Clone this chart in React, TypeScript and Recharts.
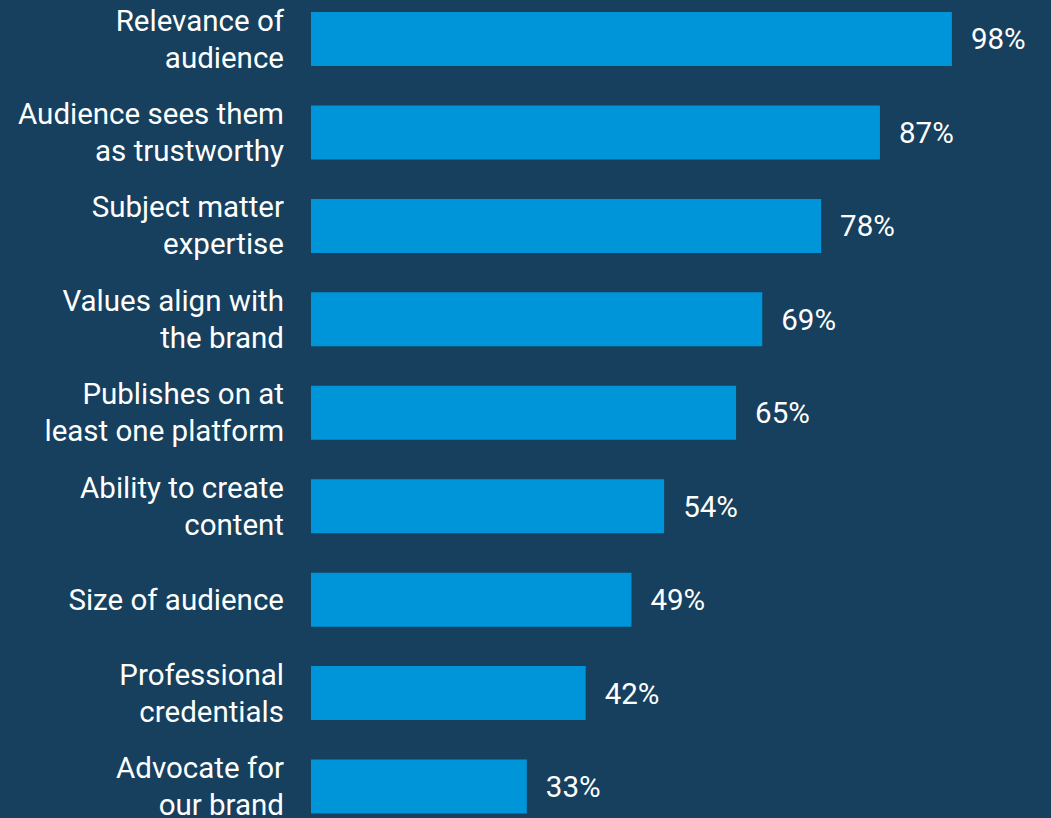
import React from "react";
import { BarChart, Bar, XAxis, YAxis, LabelList } from "recharts";

const categories = [
  ["Relevance of", "audience"],
  ["Audience sees them", "as trustworthy"],
  ["Subject matter", "expertise"],
  ["Values align with", "the brand"],
  ["Publishes on at", "least one platform"],
  ["Ability to create", "content"],
  ["Size of audience"],
  ["Professional", "credentials"],
  ["Advocate for", "our brand"],
];
const values = [98, 87, 78, 69, 65, 54, 49, 42, 33];

const data = categories.map((lines, i) => ({
  name: lines.join(" "),
  lines,
  value: values[i],
}));

const FONT = "Roboto, 'Noto Sans', sans-serif";

// multi-line right-aligned category label
const CategoryTick = (props: any) => {
  const { x, y, payload } = props;
  const row = data.find((d) => d.name === payload.value);
  const lines = row ? row.lines : [payload.value];
  const lineHeight = 37;
  const start = y - ((lines.length - 1) * lineHeight) / 2;
  return (
    <text
      x={x}
      y={start}
      textAnchor="end"
      fill="#ffffff"
      fontSize={29.5}
      fontFamily={FONT}
    >
      {lines.map((l: string, i: number) => (
        <tspan key={i} x={x} y={start + i * lineHeight} dy="0.35em">
          {l}
        </tspan>
      ))}
    </text>
  );
};

export default function App() {
  return (
    <div
      style={{
        position: "absolute",
        left: 0,
        top: 0,
        width: 1051,
        height: 818,
        overflow: "hidden",
        background: "#16405E",
      }}
    >
      <div style={{ position: "relative", top: -8 }}>
        <BarChart
          layout="vertical"
          width={1051}
          height={841}
          data={data}
          margin={{ top: 0, right: 86, bottom: 0, left: 0 }}
          barCategoryGap={0}
        >
          <XAxis type="number" domain={[0, 100]} hide />
          <YAxis
            type="category"
            dataKey="name"
            width={311}
            axisLine={false}
            tickLine={false}
            tickSize={0}
            tickMargin={27}
            interval={0}
            tick={<CategoryTick />}
          />
          <Bar
            dataKey="value"
            fill="#0094D8"
            barSize={54}
            isAnimationActive={false}
          >
            <LabelList
              dataKey="value"
              position="right"
              offset={19}
              formatter={(v: any) => `${v}%`}
              fill="#ffffff"
              fontSize={29.5}
              fontFamily={FONT}
            />
          </Bar>
        </BarChart>
      </div>
    </div>
  );
}
